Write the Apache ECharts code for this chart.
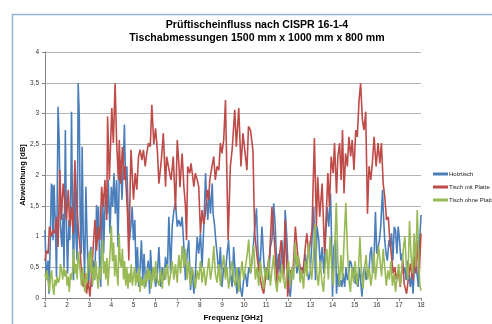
<!DOCTYPE html>
<html>
<head>
<meta charset="utf-8">
<script src="https://cdn.jsdelivr.net/npm/echarts@6/dist/echarts.min.js"></script>
<style>
  html, body { margin: 0; padding: 0; background: #fff; }
  #chart { width: 492px; height: 324px; }
</style>
</head>
<body>
<div id="chart"></div>
<script>
  var titleLines = ['Prüftischeinfluss nach CISPR 16-1-4', 'Tischabmessungen 1500 mm x 1000 mm x 800 mm'];
  var seriesNames = ['Holztisch', 'Tisch mit Platte', 'Tisch ohne Platte'];
  var xTitle = 'Frequenz [GHz]';
  var yTitle = 'Abweichung [dB]';

  // [Frequenz GHz, Abweichung dB]
  var holztisch = [[1.0,1.1],[1.06,0.29],[1.14,0.61],[1.18,0.07],[1.24,0.94],[1.29,1.86],[1.33,1.81],[1.36,0.94],[1.41,1.84],[1.47,1.16],[1.52,0.34],[1.59,3.11],[1.64,2.57],[1.7,1.16],[1.76,0.83],[1.82,1.37],[1.86,0.5],[1.92,2.73],[1.97,1.16],[2.02,0.4],[2.08,1.27],[2.12,0.94],[2.17,1.86],[2.2,3.03],[2.24,1.48],[2.29,0.29],[2.35,2.03],[2.39,1.1],[2.45,0.61],[2.5,3.49],[2.55,2.95],[2.59,1.37],[2.64,0.72],[2.68,2.46],[2.73,1.05],[2.79,0.4],[2.85,1.81],[2.89,1.16],[2.94,0.5],[2.98,0.23],[3.03,0.72],[3.08,0.83],[3.12,0.18],[3.18,0.61],[3.24,0.29],[3.3,0.94],[3.33,1.51],[3.38,0.94],[3.42,1.48],[3.47,0.5],[3.52,0.18],[3.56,1.16],[3.61,1.7],[3.65,0.72],[3.7,1.37],[3.76,1.76],[3.82,1.37],[3.86,1.92],[3.94,1.05],[4.0,1.81],[4.06,1.48],[4.12,2.03],[4.18,1.37],[4.24,1.92],[4.3,0.83],[4.36,2.03],[4.42,2.24],[4.48,1.6],[4.55,2.3],[4.59,2.82],[4.64,1.92],[4.7,2.14],[4.76,1.37],[4.82,0.94],[4.88,1.16],[4.94,1.48],[5.0,0.94],[5.06,1.27],[5.12,0.4],[5.18,0.83],[5.24,0.18],[5.3,0.5],[5.36,0.94],[5.42,0.29],[5.48,0.72],[5.55,0.18],[5.6,0.4],[5.67,0.61],[5.73,0.07],[5.77,0.78],[5.85,0.29],[5.92,0.5],[6.0,0.18],[6.08,0.4],[6.15,0.83],[6.23,0.18],[6.3,0.5],[6.38,0.29],[6.45,0.67],[6.53,0.4],[6.6,1.32],[6.68,0.4],[6.75,1.16],[6.83,1.43],[6.9,1.54],[6.98,1.16],[7.05,1.27],[7.13,1.16],[7.2,1.32],[7.28,0.83],[7.35,0.29],[7.43,0.72],[7.5,0.94],[7.58,0.13],[7.65,0.5],[7.73,0.07],[7.8,0.4],[7.88,0.99],[7.95,0.72],[8.03,1.05],[8.1,0.5],[8.18,1.16],[8.26,2.03],[8.3,1.65],[8.36,1.27],[8.42,1.76],[8.48,1.37],[8.56,1.86],[8.6,1.37],[8.66,1.21],[8.72,0.94],[8.78,0.72],[8.86,0.4],[8.93,0.83],[9.0,0.18],[9.08,0.5],[9.16,0.4],[9.23,0.72],[9.3,0.94],[9.38,0.4],[9.46,0.18],[9.53,0.83],[9.6,0.4],[9.68,0.07],[9.76,0.5],[9.83,0.18],[9.91,0.02],[9.98,0.29],[10.06,0.4],[10.14,0.18],[10.21,0.5],[10.29,0.4],[10.36,0.61],[10.44,0.94],[10.56,1.46],[10.62,0.83],[10.71,0.4],[10.81,1.16],[10.89,0.61],[10.96,0.29],[11.04,0.5],[11.11,0.29],[11.19,0.83],[11.26,0.94],[11.34,1.54],[11.41,1.16],[11.49,0.4],[11.56,0.72],[11.64,0.4],[11.71,0.94],[11.79,0.4],[11.86,1.43],[11.94,0.94],[12.02,0.18],[12.09,0.02],[12.17,0.4],[12.24,0.5],[12.32,0.72],[12.39,0.4],[12.47,0.61],[12.54,0.29],[12.62,0.5],[12.69,0.4],[12.77,0.72],[12.84,0.5],[12.92,0.29],[12.99,0.4],[13.08,0.4],[13.15,1.48],[13.23,0.29],[13.3,1.16],[13.38,0.94],[13.45,0.5],[13.53,0.83],[13.61,0.4],[13.68,0.94],[13.76,1.48],[13.83,1.16],[13.91,1.7],[13.95,1.05],[14.0,0.02],[14.06,0.83],[14.14,0.94],[14.18,0.07],[14.24,0.4],[14.3,0.18],[14.36,0.29],[14.42,0.18],[14.48,0.4],[14.55,0.18],[14.61,0.5],[14.67,0.29],[14.73,0.4],[14.79,0.61],[14.85,0.56],[14.91,0.4],[14.97,0.5],[15.03,0.23],[15.09,0.4],[15.15,0.18],[15.21,0.5],[15.27,0.29],[15.33,0.02],[15.39,0.4],[15.45,0.5],[15.52,0.29],[15.58,0.45],[15.64,0.4],[15.7,0.72],[15.76,0.83],[15.82,0.4],[15.88,0.67],[15.94,1.4],[16.0,0.72],[16.06,0.83],[16.12,0.94],[16.18,1.16],[16.26,1.76],[16.3,1.37],[16.36,0.94],[16.42,0.72],[16.48,0.61],[16.55,0.94],[16.61,0.83],[16.67,1.05],[16.73,0.61],[16.79,1.16],[16.85,1.1],[16.91,0.72],[16.97,1.16],[17.03,0.94],[17.09,0.61],[17.15,0.72],[17.21,0.4],[17.27,0.5],[17.33,0.29],[17.39,0.61],[17.45,0.4],[17.52,0.18],[17.58,0.4],[17.64,0.07],[17.7,0.5],[17.76,0.83],[17.82,0.4],[17.88,0.18],[17.94,0.94],[18.0,1.35]];

  var mitPlatte = [[1.0,0.6],[1.06,0.77],[1.14,0.72],[1.2,1.16],[1.29,1.0],[1.36,1.1],[1.44,1.05],[1.52,1.32],[1.59,0.83],[1.67,2.08],[1.74,1.27],[1.82,1.86],[1.89,1.6],[1.97,1.27],[2.05,1.76],[2.12,1.16],[2.2,1.48],[2.27,1.05],[2.35,2.24],[2.42,1.6],[2.5,1.16],[2.58,0.83],[2.65,0.4],[2.73,0.18],[2.8,0.4],[2.88,0.07],[2.95,0.29],[3.03,0.02],[3.11,0.4],[3.18,0.83],[3.26,1.27],[3.33,0.77],[3.41,1.16],[3.48,0.94],[3.56,1.81],[3.64,1.48],[3.71,1.92],[3.79,1.27],[3.83,2.95],[3.91,1.92],[4.02,3.09],[4.09,2.52],[4.17,3.49],[4.24,2.52],[4.32,1.92],[4.36,2.57],[4.42,1.86],[4.5,2.46],[4.58,1.92],[4.62,2.14],[4.73,1.37],[4.79,0.61],[4.85,1.81],[4.89,2.41],[5.0,1.6],[5.08,2.03],[5.15,1.76],[5.23,2.3],[5.3,2.41],[5.38,2.24],[5.45,2.41],[5.53,2.14],[5.6,2.35],[5.68,2.52],[5.76,2.46],[5.83,3.14],[5.92,2.5],[6.0,2.76],[6.08,2.4],[6.15,1.86],[6.25,2.2],[6.35,2.68],[6.45,1.81],[6.5,2.3],[6.6,2.1],[6.7,1.92],[6.8,2.3],[6.9,1.43],[6.98,2.57],[7.05,2.2],[7.1,1.8],[7.2,2.35],[7.28,1.8],[7.35,1.5],[7.4,0.94],[7.45,2.14],[7.55,2.03],[7.6,2.19],[7.67,2.0],[7.73,1.81],[7.8,2.03],[7.88,1.92],[7.95,1.81],[8.03,1.05],[8.1,1.43],[8.18,1.2],[8.25,1.37],[8.33,1.76],[8.4,1.6],[8.45,1.92],[8.55,2.14],[8.63,2.3],[8.7,1.92],[8.78,2.14],[8.86,2.08],[8.93,2.52],[9.0,2.35],[9.08,2.57],[9.16,3.22],[9.23,3.22],[9.28,0.94],[9.38,2.14],[9.46,2.41],[9.58,3.06],[9.65,2.46],[9.76,3.09],[9.86,2.14],[9.95,2.68],[10.03,2.68],[10.13,2.08],[10.2,2.79],[10.29,2.73],[10.4,2.41],[10.48,1.05],[10.59,0.67],[10.67,0.45],[10.74,0.29],[10.82,0.15],[10.89,0.07],[10.96,0.3],[11.04,0.45],[11.16,0.72],[11.26,1.48],[11.37,0.94],[11.49,0.23],[11.56,0.56],[11.68,0.94],[11.79,0.29],[11.86,1.27],[11.97,0.02],[12.09,0.45],[12.21,0.4],[12.32,1.16],[12.42,0.72],[12.54,0.5],[12.66,0.4],[12.77,0.83],[12.84,1.05],[12.92,0.72],[13.07,1.1],[13.18,2.6],[13.27,1.16],[13.33,1.97],[13.42,1.32],[13.53,1.86],[13.64,0.72],[13.73,1.48],[13.79,2.03],[13.86,1.48],[13.94,2.3],[14.03,2.03],[14.09,2.52],[14.18,1.7],[14.24,2.3],[14.32,2.52],[14.39,1.92],[14.45,2.73],[14.52,1.7],[14.59,2.35],[14.67,2.14],[14.74,2.62],[14.82,2.3],[14.89,2.57],[14.97,2.08],[15.05,2.73],[15.12,2.62],[15.2,3.22],[15.27,3.49],[15.35,2.9],[15.42,2.73],[15.5,3.03],[15.58,1.37],[15.65,2.14],[15.73,1.92],[15.8,2.19],[15.88,2.62],[15.97,2.14],[16.06,2.52],[16.14,2.19],[16.21,2.52],[16.29,1.86],[16.36,1.65],[16.44,1.27],[16.52,1.32],[16.59,0.94],[16.67,0.67],[16.74,0.4],[16.82,0.5],[16.89,0.29],[16.97,0.45],[17.06,0.18],[17.17,0.61],[17.24,0.23],[17.35,0.07],[17.42,0.29],[17.52,0.56],[17.62,0.29],[17.7,0.67],[17.77,0.4],[17.85,0.94],[17.92,0.4],[18.0,1.05]];

  var ohnePlatte = [[1.0,0.4],[1.05,0.3],[1.1,0.45],[1.15,0.25],[1.2,0.1],[1.25,0.35],[1.3,0.45],[1.35,0.2],[1.4,0.05],[1.45,0.3],[1.5,0.2],[1.55,0.35],[1.6,0.25],[1.65,0.3],[1.7,0.55],[1.75,0.45],[1.8,0.3],[1.85,0.5],[1.9,0.35],[1.95,0.45],[2.0,0.2],[2.05,0.35],[2.1,0.1],[2.15,0.4],[2.2,0.3],[2.25,0.45],[2.3,0.8],[2.35,0.4],[2.4,0.55],[2.45,0.3],[2.5,0.75],[2.55,0.6],[2.6,0.4],[2.65,0.2],[2.7,0.5],[2.75,0.3],[2.8,0.1],[2.85,0.4],[2.9,0.25],[2.95,0.6],[3.0,0.75],[3.05,0.4],[3.1,0.8],[3.15,0.2],[3.2,0.5],[3.25,0.3],[3.3,0.6],[3.35,0.35],[3.4,0.15],[3.45,0.5],[3.5,0.3],[3.55,0.6],[3.6,0.95],[3.65,0.4],[3.7,0.6],[3.75,0.3],[3.8,0.65],[3.85,0.2],[3.9,0.5],[3.95,0.8],[4.0,1.17],[4.05,0.6],[4.1,0.9],[4.15,0.35],[4.2,0.7],[4.25,0.4],[4.3,0.2],[4.35,1.05],[4.4,0.6],[4.45,0.5],[4.5,0.8],[4.55,0.3],[4.6,0.6],[4.65,0.2],[4.7,0.5],[4.75,0.15],[4.8,0.4],[4.85,0.25],[4.9,0.55],[4.95,0.2],[5.0,0.35],[5.05,0.5],[5.1,0.2],[5.15,0.4],[5.2,0.25],[5.25,0.5],[5.3,0.1],[5.35,0.35],[5.4,0.2],[5.45,0.3],[5.5,0.15],[5.55,0.4],[5.6,0.25],[5.65,0.5],[5.7,0.3],[5.75,0.45],[5.8,0.15],[5.85,0.35],[5.9,0.5],[5.95,0.25],[6.0,0.6],[6.08,0.3],[6.15,0.2],[6.23,0.45],[6.3,0.15],[6.38,0.5],[6.45,0.3],[6.53,0.55],[6.6,0.2],[6.68,0.4],[6.75,0.6],[6.83,0.3],[6.9,0.55],[6.98,0.25],[7.05,0.7],[7.13,0.4],[7.2,0.85],[7.28,0.5],[7.35,0.8],[7.43,0.3],[7.5,0.6],[7.58,0.2],[7.65,0.5],[7.73,0.35],[7.8,0.15],[7.88,0.45],[7.95,0.3],[8.03,0.6],[8.1,0.25],[8.18,0.5],[8.26,0.2],[8.33,0.4],[8.41,0.65],[8.48,0.3],[8.56,0.5],[8.63,0.85],[8.7,0.4],[8.78,0.25],[8.86,0.55],[8.93,0.2],[9.0,0.45],[9.08,0.7],[9.16,0.3],[9.23,0.5],[9.3,0.15],[9.38,0.4],[9.46,0.6],[9.53,0.3],[9.6,0.2],[9.68,0.5],[9.76,0.1],[9.83,0.35],[9.91,0.6],[9.98,0.3],[10.06,0.5],[10.14,0.7],[10.21,0.95],[10.29,0.4],[10.36,0.6],[10.44,0.85],[10.51,0.3],[10.59,0.5],[10.66,0.2],[10.74,0.6],[10.81,0.35],[10.89,0.15],[10.96,0.5],[11.04,0.3],[11.11,0.65],[11.19,0.2],[11.26,0.45],[11.34,0.7],[11.41,0.3],[11.49,0.1],[11.56,0.4],[11.64,0.25],[11.71,0.55],[11.79,0.3],[11.86,0.15],[11.94,0.45],[12.01,0.6],[12.09,0.2],[12.16,0.5],[12.24,0.3],[12.31,0.9],[12.39,0.5],[12.46,0.7],[12.54,0.25],[12.61,0.45],[12.69,0.15],[12.76,0.6],[12.84,0.35],[12.91,0.9],[12.99,0.5],[13.06,0.3],[13.14,0.7],[13.21,1.2],[13.29,0.4],[13.36,0.2],[13.44,0.6],[13.51,0.3],[13.59,0.1],[13.66,0.5],[13.74,0.8],[13.81,0.3],[13.89,1.0],[13.96,0.5],[14.04,0.2],[14.11,0.9],[14.17,1.55],[14.24,0.6],[14.31,0.2],[14.38,0.7],[14.45,0.3],[14.52,0.9],[14.6,1.55],[14.67,0.8],[14.74,0.3],[14.81,0.1],[14.88,0.5],[14.95,0.25],[15.02,0.6],[15.1,0.2],[15.17,0.45],[15.24,0.99],[15.31,0.4],[15.38,0.15],[15.45,0.5],[15.52,0.7],[15.59,0.3],[15.66,0.5],[15.73,0.2],[15.8,0.4],[15.87,0.75],[15.94,0.3],[16.01,0.55],[16.08,0.85],[16.15,0.6],[16.22,0.35],[16.29,0.8],[16.36,0.5],[16.43,0.2],[16.5,0.45],[16.57,0.3],[16.64,0.6],[16.71,0.2],[16.78,0.4],[16.85,0.1],[16.92,0.35],[16.99,0.55],[17.06,0.2],[17.13,0.45],[17.2,0.8],[17.27,1.0],[17.34,0.5],[17.41,0.3],[17.48,1.25],[17.55,0.7],[17.62,0.4],[17.69,1.05],[17.76,0.5],[17.83,1.43],[17.9,0.6],[17.95,0.2],[18.0,0.12]];

  var colors = ['#4a7ebb', '#be4b48', '#98b954'];
  var font = 'Liberation Sans, Arial, sans-serif';

  var chart = echarts.init(document.getElementById('chart'), null, { renderer: 'canvas' });

  function lineSeries(name, data, color) {
    return {
      name: name,
      type: 'line',
      data: data,
      showSymbol: false,
      color: color,
      lineStyle: { width: 1.6, color: color },
      emphasis: { disabled: true }
    };
  }

  chart.setOption({
    animation: false,
    backgroundColor: '#fff',
    color: colors,
    title: {
      text: titleLines.join('\n'),
      left: 257,
      textAlign: 'center',
      top: 19,
      padding: 0,
      textStyle: { fontFamily: font, fontWeight: 'bold', fontSize: 10.6, lineHeight: 13, color: '#000' }
    },
    legend: {
      orient: 'vertical',
      left: 433,
      top: 171,
      padding: 0,
      itemWidth: 15,
      itemHeight: 3,
      itemGap: 7,
      icon: 'rect',
      textStyle: { fontFamily: font, fontSize: 6, color: '#222', padding: [0, 0, 0, -4] },
      data: seriesNames
    },
    grid: { left: 45, right: 71, top: 52, bottom: 26, containLabel: false, outerBoundsMode: 'none' },
    xAxis: {
      type: 'value',
      min: 1,
      max: 18,
      interval: 1,
      name: xTitle,
      nameLocation: 'middle',
      nameGap: 16,
      nameMoveOverlap: false,
      nameTextStyle: { fontFamily: font, fontWeight: 'bold', fontSize: 8, color: '#000' },
      axisLine: { lineStyle: { color: '#868686', width: 1 } },
      axisTick: { show: true, length: 3, lineStyle: { color: '#868686' } },
      axisLabel: { fontFamily: font, fontSize: 6.5, color: '#333', margin: 4 },
      splitLine: { show: false }
    },
    yAxis: {
      type: 'value',
      min: 0,
      max: 4,
      interval: 0.5,
      name: yTitle,
      nameLocation: 'middle',
      nameGap: 18,
      nameMoveOverlap: false,
      nameRotate: 90,
      nameTextStyle: { fontFamily: font, fontWeight: 'bold', fontSize: 7.5, color: '#000' },
      axisLine: { show: true, lineStyle: { color: '#868686', width: 1 } },
      axisTick: { show: true, length: 3, lineStyle: { color: '#868686' } },
      axisLabel: {
        fontFamily: font, fontSize: 6.5, color: '#333', margin: 6,
        formatter: function (v) { return String(v).replace('.', ','); }
      },
      splitLine: { lineStyle: { color: '#b4b4b4', width: 1 } }
    },
    graphic: [
      {
        type: 'polyline',
        silent: true,
        shape: { points: [[12.5, 324], [12.5, 14.5], [492, 14.5]] },
        style: { stroke: '#95b3d7', fill: null, lineWidth: 1.5 }
      }
    ],
    series: [
      lineSeries(seriesNames[0], holztisch, colors[0]),
      lineSeries(seriesNames[1], mitPlatte, colors[1]),
      lineSeries(seriesNames[2], ohnePlatte, colors[2])
    ]
  });
</script>
</body>
</html>
